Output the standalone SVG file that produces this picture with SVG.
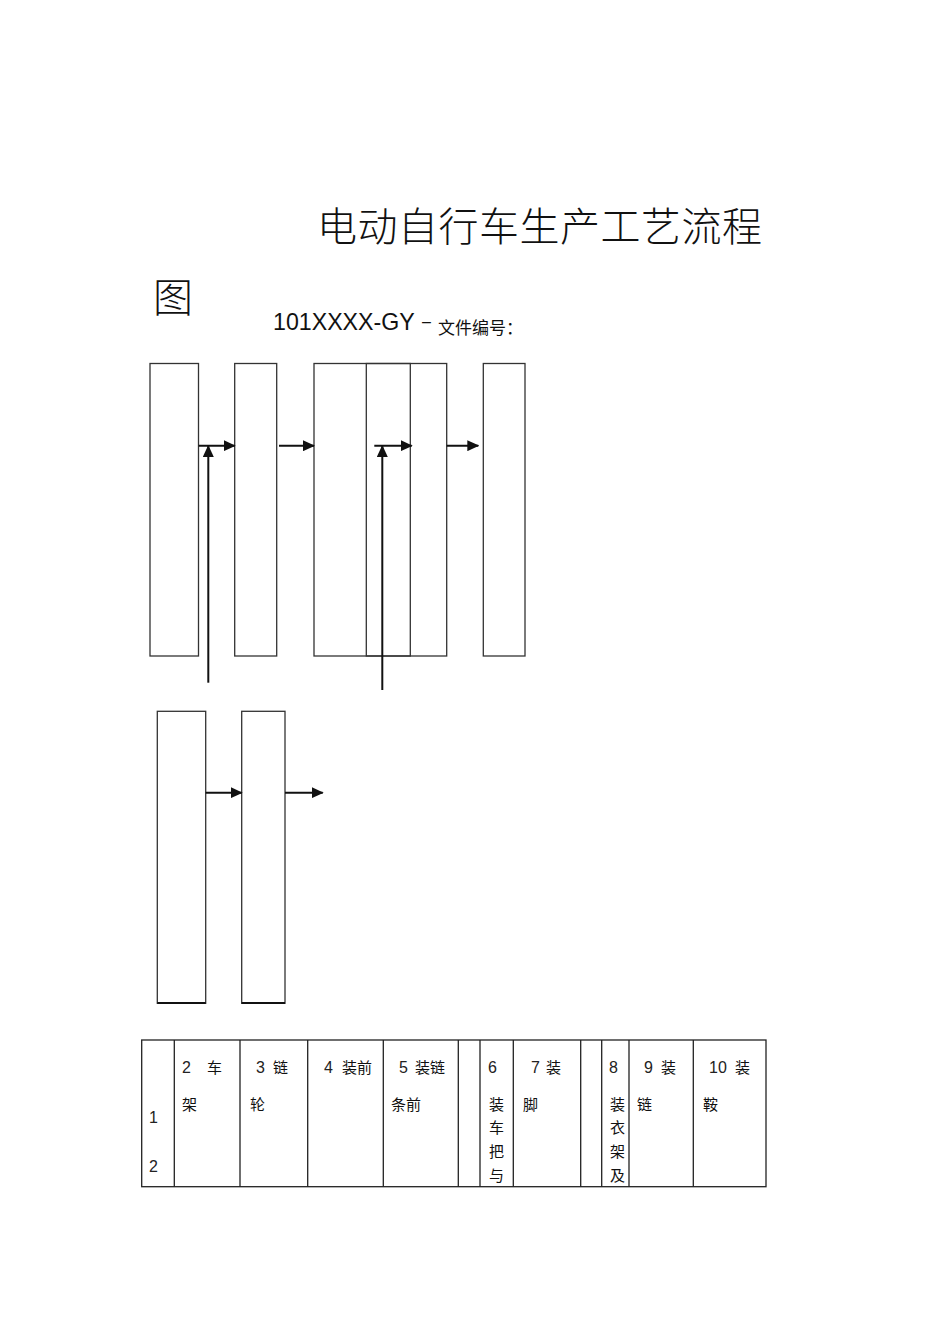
<svg xmlns="http://www.w3.org/2000/svg" width="950" height="1318" viewBox="0 0 950 1318">
<style>
.box{fill:none;stroke:#333;stroke-width:1.3}
.cn{font-family:"Noto Sans CJK SC","Liberation Sans",sans-serif;fill:#111}
.t{font-family:"Liberation Sans","Noto Sans CJK SC",sans-serif;fill:#222;font-size:16px}
.c{stroke:#111;stroke-width:2;fill:none}
.tb{stroke:#222;stroke-width:1.3;fill:none}
</style>
<defs>
<marker id="ahb" markerWidth="12" markerHeight="11" refX="11" refY="5.5" orient="auto" markerUnits="userSpaceOnUse" viewBox="0 0 12 11">
<path d="M0,0 L12,5.5 L0,11 Z" fill="#111"/>
</marker>
</defs>
<rect width="950" height="1318" fill="#fff"/>
<g id="title">
<text class="cn" x="317" y="241" font-size="40" font-weight="300" textLength="445">电动自行车生产工艺流程</text>
<text class="cn" x="153" y="312" font-size="40" font-weight="300">图</text>
<text x="273" y="330" font-family="Liberation Sans, sans-serif" font-size="23.2" fill="#111">101XXXX-GY</text>
<text x="422" y="327" font-family="Liberation Sans, sans-serif" font-size="16" fill="#111">–</text>
<text class="cn" x="438" y="334" font-size="17" textLength="85">文件编号：</text>
</g>
<g id="node1"><rect class="box" x="150" y="363.5" width="48.5" height="292.5"/></g>
<g id="node2"><rect class="box" x="234.7" y="363.5" width="42" height="292.5"/></g>
<g id="node3"><rect class="box" x="314" y="363.5" width="96.3" height="292.5"/></g>
<g id="node4"><rect class="box" x="366.3" y="363.5" width="80.4" height="292.5"/></g>
<g id="node5"><rect class="box" x="483.3" y="363.5" width="41.7" height="292.5"/></g>
<g id="node6"><rect class="box" x="157.3" y="711.3" width="48.4" height="292"/><line x1="157.3" y1="1003" x2="205.7" y2="1003" stroke="#111" stroke-width="2.2"/></g>
<g id="node7"><rect class="box" x="241.7" y="711.3" width="43.3" height="292"/><line x1="241.7" y1="1003" x2="285" y2="1003" stroke="#111" stroke-width="2.2"/></g>
<g id="connectors">
<line class="c" x1="198.7" y1="445.7" x2="234.7" y2="445.7" marker-end="url(#ahb)"/>
<line class="c" x1="279" y1="445.7" x2="314" y2="445.7" marker-end="url(#ahb)"/>
<line class="c" x1="374.3" y1="445.7" x2="411.7" y2="445.7" marker-end="url(#ahb)"/>
<line class="c" x1="446.7" y1="445.7" x2="478.3" y2="445.7" marker-end="url(#ahb)"/>
<line class="c" x1="208.3" y1="682.7" x2="208.3" y2="446" marker-end="url(#ahb)"/>
<line class="c" x1="382.3" y1="690" x2="382.3" y2="446" marker-end="url(#ahb)"/>
<line class="c" x1="205.7" y1="792.7" x2="241.7" y2="792.7" marker-end="url(#ahb)"/>
<line class="c" x1="285" y1="792.7" x2="322.7" y2="792.7" marker-end="url(#ahb)"/>
</g>
<g id="table">
<rect class="tb" x="141.7" y="1040" width="624.3" height="146.7"/>
<path class="tb" d="M174.3,1040V1186.7 M240,1040V1186.7 M307.7,1040V1186.7 M383.3,1040V1186.7 M458.3,1040V1186.7 M480,1040V1186.7 M513.3,1040V1186.7 M580.7,1040V1186.7 M601.7,1040V1186.7 M629,1040V1186.7 M693.3,1040V1186.7"/>
<text class="t" x="149" y="1123">1</text>
<text class="t" x="149" y="1172">2</text>
<text class="t" x="182" y="1073">2</text><text class="cn" x="207" y="1073" font-size="15">车</text>
<text class="cn" x="182" y="1110" font-size="15">架</text>
<text class="t" x="256" y="1073">3</text><text class="cn" x="273" y="1073" font-size="15">链</text>
<text class="cn" x="250" y="1110" font-size="15">轮</text>
<text class="t" x="324" y="1073">4</text><text class="cn" x="342" y="1073" font-size="15">装前</text>
<text class="t" x="399" y="1073">5</text><text class="cn" x="415" y="1073" font-size="15">装链</text>
<text class="cn" x="391" y="1110" font-size="15">条前</text>
<text class="t" x="488" y="1073">6</text>
<text class="cn" x="489" y="1110" font-size="15">装</text>
<text class="cn" x="489" y="1133" font-size="15">车</text>
<text class="cn" x="489" y="1157" font-size="15">把</text>
<text class="cn" x="489" y="1181" font-size="15">与</text>
<text class="t" x="531" y="1073">7</text><text class="cn" x="546" y="1073" font-size="15">装</text>
<text class="cn" x="523" y="1110" font-size="15">脚</text>
<text class="t" x="609" y="1073">8</text>
<text class="cn" x="610" y="1110" font-size="15">装</text>
<text class="cn" x="610" y="1133" font-size="15">衣</text>
<text class="cn" x="610" y="1157" font-size="15">架</text>
<text class="cn" x="610" y="1181" font-size="15">及</text>
<text class="t" x="644" y="1073">9</text><text class="cn" x="661" y="1073" font-size="15">装</text>
<text class="cn" x="637" y="1110" font-size="15">链</text>
<text class="t" x="709" y="1073">10</text><text class="cn" x="735" y="1073" font-size="15">装</text>
<text class="cn" x="703" y="1110" font-size="15">鞍</text>
</g>
</svg>
